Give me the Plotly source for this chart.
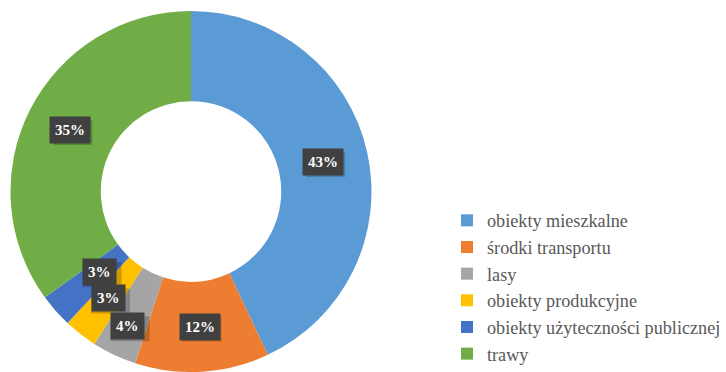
import math
import plotly.graph_objects as go

categories = ["obiekty mieszkalne", "środki transportu", "lasy",
              "obiekty produkcyjne", "obiekty użyteczności publicznej", "trawy"]
values = [43, 12, 4, 3, 3, 35]
colors = ["#5B9BD5", "#ED7D31", "#A5A5A5", "#FFC000", "#4472C4", "#70AD47"]
# radial placement factor of each data label (1 = middle of the ring)
label_radius_scale = [1.0, 1.0, 1.1, 1.0, 0.9, 1.0]

W, H = 726, 372
top = 11
plot_h = H - top
cx_px = 191
hole = 0.5
r = plot_h / 2
cy_px = top + r
SERIF = "Times New Roman, Liberation Serif, serif"

fig = go.Figure()
fig.add_trace(go.Pie(
    labels=categories, values=values, hole=hole, sort=False,
    direction="clockwise", rotation=0,
    marker=dict(colors=colors, line=dict(width=0)),
    textinfo="none", hoverinfo="label+percent",
    domain=dict(x=[0, 2 * cx_px / W], y=[0, 1]),
))

total = sum(values)
cum = 0
rm = r * (1 + hole) / 2
for v, k in zip(values, label_radius_scale):
    mid = (cum + v / 2) / total * 2 * math.pi
    cum += v
    xp = cx_px + k * rm * math.sin(mid)
    yp = cy_px - k * rm * math.cos(mid)
    px, py = xp / W, (H - yp) / plot_h
    # soft drop shadow of the label box
    fig.add_shape(
        type="rect", xref="paper", yref="paper",
        xsizemode="pixel", ysizemode="pixel",
        xanchor=px, yanchor=py,
        x0=-17, x1=22, y0=-15, y1=10,
        fillcolor="rgba(0,0,0,0.2)", line=dict(width=0), layer="above",
    )
    fig.add_annotation(
        x=px, y=py, xref="paper", yref="paper",
        xanchor="center", yanchor="middle",
        text=f"<b>{round(v / total * 100)}%</b>", showarrow=False,
        font=dict(family=SERIF, size=15, color="white"),
        bgcolor="#404040", borderpad=5,
    )

fig.update_layout(
    width=W, height=H,
    margin=dict(l=0, r=0, t=top, b=0, autoexpand=False),
    paper_bgcolor="white", plot_bgcolor="white",
    showlegend=True,
    legend=dict(
        x=447 / W, y=(H - 202) / plot_h, xanchor="left", yanchor="top",
        font=dict(family=SERIF, size=18.2, color="#595959"),
        itemwidth=30, tracegroupgap=0,
    ),
)

fig.write_html("out.html")
